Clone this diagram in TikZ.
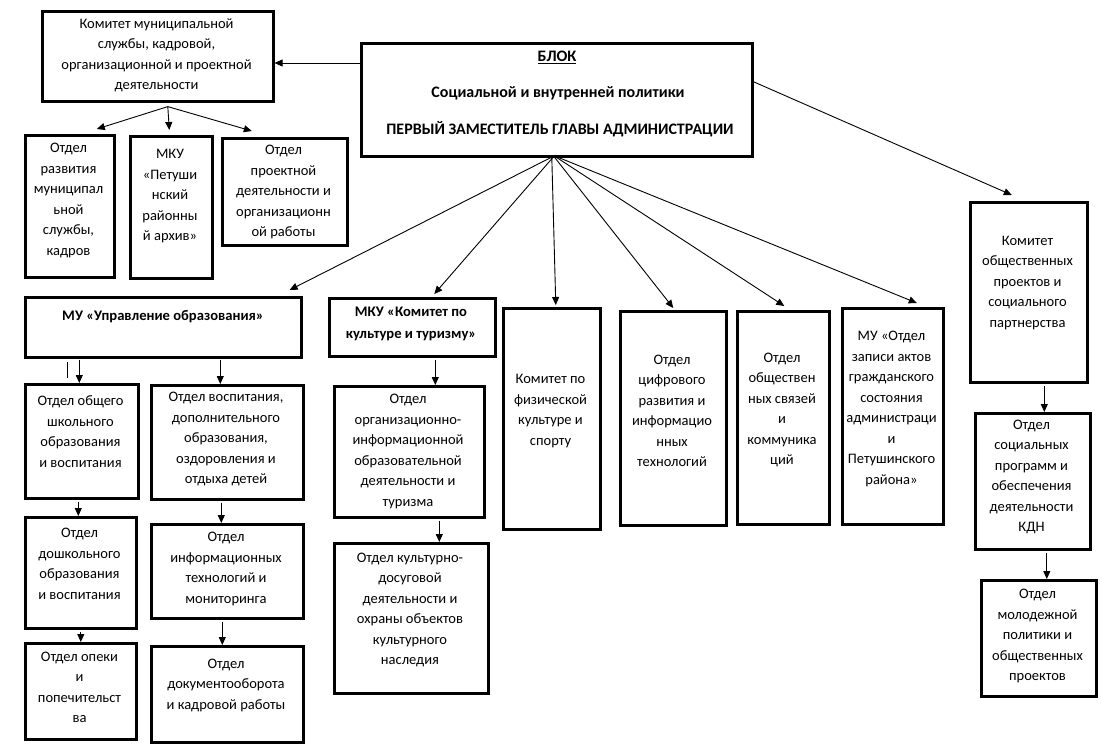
\documentclass[tikz,border=0pt]{standalone}
\usepackage{fontspec}
\setmainfont{Carlito}
\usetikzlibrary{arrows.meta}
\newcommand\bx[5]{\node[box, minimum width=\fpeval{#4-#2}pt, minimum height=\fpeval{#5-#3}pt] (#1) at (#2,#3) {};}
\begin{document}
\begin{tikzpicture}[x=1pt,y=-1pt,
  box/.style={draw, line width=2.6pt, inner sep=0pt, anchor=north west},
  txt/.style={align=center, inner sep=0pt, font=\fontsize{14.5}{20.5}\selectfont},
  btxt/.style={txt, font=\fontsize{14.6}{22}\selectfont\bfseries},
  bigtxt/.style={txt, font=\fontsize{16}{22}\selectfont\bfseries},
  arr/.style={line width=0.9pt, -{Triangle[length=8pt,width=7pt]}},
  thinline/.style={line width=0.9pt}]
\useasboundingbox (0,0) rectangle (1102,747);
\fill[white] (0,0) rectangle (1102,747);
% boxes
\bx{com}{41}{10}{272}{100}
\bx{blok}{360}{42}{751}{155}
\bx{razv}{24}{134}{113}{276}
\bx{arch}{129}{135}{211}{277}
\bx{proj}{221}{137}{346}{244}
\bx{mu}{24}{296}{300}{356}
\bx{mku}{328}{297}{494}{355}
\bx{fiz}{502}{307}{599}{528}
\bx{tsifr}{619}{310}{725}{524}
\bx{svyaz}{736}{310}{828}{523}
\bx{zap}{841}{307}{942}{523}
\bx{kop}{969}{201}{1086}{381}
\bx{shk}{24}{383}{137}{497}
\bx{vosp}{150}{384}{302}{498}
\bx{org}{333}{385}{483}{516}
\bx{dosh}{24}{516}{135}{627}
\bx{inf}{150}{523}{302}{617}
\bx{opeki}{24}{642}{135}{738}
\bx{dok}{150}{645}{302}{741}
\bx{kd}{333}{542}{487}{692}
\bx{soc}{974}{412}{1089}{548}
\bx{mol}{980}{579}{1095}{695}
% texts
\node[txt] (t-com) at (156.5,55.5) {Комитет муниципальной\\службы, кадровой,\\организационной и проектной\\деятельности};
\node[bigtxt] (t-blok1) at (557,57) {\underline{БЛОК}};
\node[bigtxt] (t-blok2) at (558,93) {Социальной и внутренней политики};
\node[bigtxt] (t-blok3) at (560,129) {ПЕРВЫЙ ЗАМЕСТИТЕЛЬ ГЛАВЫ АДМИНИСТРАЦИИ};
\node[txt] (t-razv) at (68.5,200.5) {Отдел\\развития\\муниципал\\ьной\\службы,\\кадров};
\node[txt] (t-arch) at (170,196.5) {МКУ\\«Петуши\\нский\\районны\\й архив»};
\node[txt] (t-proj) at (283.5,192) {Отдел\\проектной\\деятельности и\\организационн\\ой работы};
\node[btxt] (t-mu) at (163,316.5) {МУ «Управление образования»};
\node[btxt] (t-mku) at (411,324) {МКУ «Комитет по\\культуре и туризму»};
\node[txt] (t-fiz) at (550.5,411) {Комитет по\\физической\\культуре и\\спорту};
\node[txt] (t-tsifr) at (672,411) {Отдел\\цифрового\\развития и\\информацио\\нных\\технологий};
\node[txt] (t-svyaz) at (782,410) {Отдел\\обществен\\ных связей\\и\\коммуника\\ций};
\node[txt] (t-zap) at (891.5,409) {МУ «Отдел\\записи актов\\гражданского\\состояния\\администраци\\и\\Петушинского\\района»};
\node[txt] (t-kop) at (1027.5,283) {Комитет\\общественных\\проектов и\\социального\\партнерства};
\node[txt] (t-shk) at (80.5,431.5) {Отдел общего\\школьного\\образования\\и воспитания};
\node[txt] (t-vosp) at (226,439) {Отдел воспитания,\\дополнительного\\образования,\\оздоровления и\\отдыха детей};
\node[txt] (t-org) at (408,451.5) {Отдел\\организационно-\\информационной\\образовательной\\деятельности и\\туризма};
\node[txt] (t-kd) at (410,610) {Отдел культурно-\\досуговой\\деятельности и\\охраны объектов\\культурного\\наследия};
\node[txt] (t-dosh) at (79.5,564) {Отдел\\дошкольного\\образования\\и воспитания};
\node[txt] (t-inf) at (226,569) {Отдел\\информационных\\технологий и\\мониторинга};
\node[txt] (t-opeki) at (79.5,687.5) {Отдел опеки\\и\\попечительст\\ва};
\node[txt] (t-dok) at (226,685) {Отдел\\документооборота\\и кадровой работы};
\node[txt] (t-soc) at (1031.5,477) {Отдел\\социальных\\программ и\\обеспечения\\деятельности\\КДН};
\node[txt] (t-mol) at (1037.5,636) {Отдел\\молодежной\\политики и\\общественных\\проектов};
% connectors from main block
\draw[arr] (blok.west |- 0,63) -- (com.east |- 0,63);
\draw[arr] ([yshift=18pt]blok.east) -- ([xshift=-17pt,yshift=6pt]kop.north);
\draw[arr] ([xshift=-6pt]blok.south) -- ([xshift=-13pt,yshift=6pt]mu.north east);
\draw[arr] ([xshift=-4pt]blok.south) -- ([xshift=22pt,yshift=3pt]mku.north);
\draw[arr] ([xshift=-5pt]blok.south) -- ([xshift=4pt,yshift=2pt]fiz.north);
\draw[arr] ([xshift=-2pt]blok.south) -- ([yshift=2pt]tsifr.north);
\draw[arr] (blok.south) -- ([xshift=1pt,yshift=4pt]svyaz.north);
\draw[arr] ([xshift=2pt]blok.south) -- ([xshift=24pt,yshift=4pt]zap.north);
% committee children
\draw[arr] ([xshift=10pt,yshift=-4pt]com.south) -- ([xshift=27pt,yshift=5pt]razv.north);
\draw[arr] ([xshift=10pt,yshift=-4pt]com.south) -- ([xshift=-2pt,yshift=5pt]arch.north);
\draw[arr] ([xshift=10pt,yshift=-4pt]com.south) -- ([xshift=-33pt,yshift=6pt]proj.north);
% vertical chains
\draw[arr] ([xshift=-2.5pt,yshift=-1pt]shk.north |- mu.south) -- ([xshift=-2.5pt]shk.north);
\draw[thinline] ([xshift=-14.5pt,yshift=-3pt]shk.north |- mu.south) -- ++(0,16);
\draw[arr] ([xshift=-7pt,yshift=-1pt]vosp.north |- mu.south) -- ([xshift=-7pt]vosp.north);
\draw[arr] ([xshift=-2.5pt,yshift=-2pt]dosh.north |- shk.south) -- ([xshift=-2.5pt]dosh.north);
\draw[arr] ([yshift=-2pt]opeki.north |- dosh.south) -- (opeki.north);
\draw[arr] ([xshift=-6pt,yshift=-2pt]inf.north |- vosp.south) -- ([xshift=-6pt]inf.north);
\draw[arr] ([xshift=-5pt,yshift=-2pt]dok.north |- inf.south) -- ([xshift=-5pt]dok.north);
\draw[arr] ([xshift=26pt,yshift=-2pt]org.north |- mku.south) -- ([xshift=26pt]org.north);
\draw[arr] ([xshift=28pt,yshift=-2pt]kd.north |- org.south) -- ([xshift=28pt]kd.north);
\draw[arr] ([xshift=11.5pt,yshift=-2pt]soc.north |- kop.south) -- ([xshift=11.5pt]soc.north);
\draw[arr] ([xshift=8pt,yshift=-2pt]mol.north |- soc.south) -- ([xshift=8pt]mol.north);
\end{tikzpicture}
\end{document}
